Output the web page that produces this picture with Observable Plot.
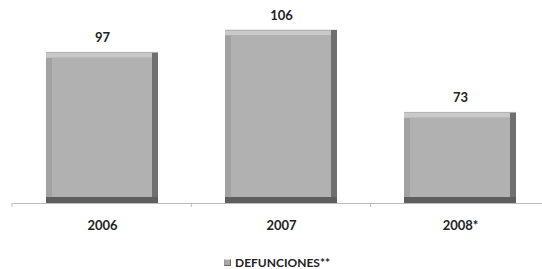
<!DOCTYPE html>
<html><head><meta charset="utf-8">
<script src="https://cdn.jsdelivr.net/npm/d3@7"></script>
<script src="https://cdn.jsdelivr.net/npm/@observablehq/plot@0.6"></script>
<style>
body{margin:0;background:#fff;font-family:Lato,"Open Sans",sans-serif;}
#chart{position:relative;width:542px;height:269px;overflow:hidden;}
#legend{position:absolute;left:224px;top:255px;font:bold 12px Lato,sans-serif;color:#222;display:flex;align-items:center;gap:4px;}
#legend .sw{width:7px;height:7px;background:#a8a8a8;border-right:1px solid #666;border-bottom:1px solid #666;border-top:1px solid #ddd;border-left:1px solid #999;box-sizing:border-box;}
</style></head>
<body><div id="chart"></div>
<script>
const years = ["2006", "2007", "2008*"];
const deaths = [97, 106, 73];
const seriesName = "DEFUNCIONES**";

const data = years.map((y, i) => ({year: y, value: deaths[i]}));
const B = 6;
const layer = (fill, inset) => Plot.barY(data, {x: "year", y1: 36.5, y2: "value", fill, ...inset});

const plot = Plot.plot({
  width: 542, height: 240,
  marginTop: 0, marginBottom: 37, marginLeft: 12, marginRight: 0,
  style: {fontFamily: "Lato, sans-serif", fontSize: "12px", color: "#222", background: "transparent"},
  x: {domain: years, range: [12, 550], paddingInner: 0.375, paddingOuter: 0.1875, label: null},
  y: {domain: [36.5, 117.7], axis: null},
  marks: [
    layer("#e2e2e2", {}),
    layer("#5e5e5e", {insetTop: 1}),
    layer("#6f6f6f", {insetTop: 1, insetBottom: B}),
    layer("#c9c9c9", {insetTop: 1, insetRight: B, insetBottom: B}),
    layer("#a2a2a2", {insetTop: B, insetRight: B, insetBottom: B}),
    layer("#b1b1b1", {insetTop: B, insetLeft: B, insetRight: B, insetBottom: B}),
    Plot.ruleY([36.5], {stroke: "#bdbdbd", strokeWidth: 1}),
    Plot.text(data, {x: "year", y: "value", text: d => String(d.value), dy: -14, fontWeight: "bold", fontSize: 13, fill: "#222"}),
    Plot.axisX({tickSize: 0, tickPadding: 17, fontWeight: "bold", fontSize: 13, fill: "#222"})
  ]
});
document.getElementById("chart").appendChild(plot);

// small tick marks at category boundaries, from the library's x scale
const xs = plot.scale("x");
const sc = d3.scaleBand().domain(xs.domain).range(xs.range).paddingInner(0.375).paddingOuter(0.1875);
const bounds = years.map(y => sc(y) - (sc.step() - sc.bandwidth()) / 2);
const y0 = 203;
d3.select(plot).append("g").selectAll("line").data(bounds).join("line")
  .attr("x1", d => d).attr("x2", d => d)
  .attr("y1", y0).attr("y2", y0 + 4)
  .attr("stroke", "#bdbdbd");

const lg = document.createElement("div");
lg.id = "legend";
lg.innerHTML = '<span class="sw"></span><span></span>';
lg.lastChild.textContent = seriesName;
document.getElementById("chart").appendChild(lg);
</script></body></html>
